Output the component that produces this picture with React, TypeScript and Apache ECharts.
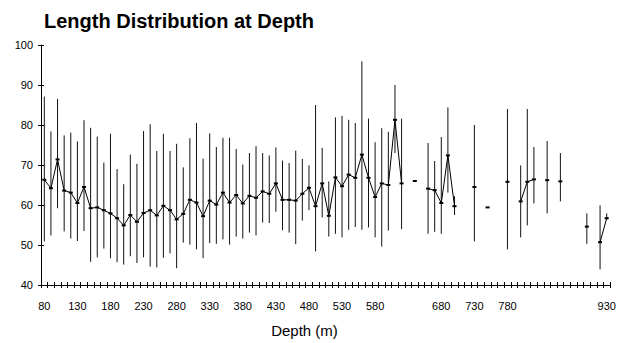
import React, { useEffect, useRef } from "react";
import * as echarts from "echarts";

const depths = [
  80, 90, 100, 110, 120, 130, 140, 150, 160, 170,
  180, 190, 200, 210, 220, 230, 240, 250, 260, 270,
  280, 290, 300, 310, 320, 330, 340, 350, 360, 370,
  380, 390, 400, 410, 420, 430, 440, 450, 460, 470,
  480, 490, 500, 510, 520, 530, 540, 550, 560, 570,
  580, 590, 600, 610, 620, 630, 640, 650, 660, 670,
  680, 690, 700, 710, 720, 730, 740, 750, 760, 770,
  780, 790, 800, 810, 820, 830, 840, 850, 860, 870,
  880, 890, 900, 910, 920, 930,
];

const meanLength: (number | null)[] = [
  66.3, 64.2, 71.4, 63.6, 63.1, 60.5, 64.5, 59.2, 59.4, 58.7,
  57.9, 56.7, 54.9, 57.5, 55.8, 58.0, 58.7, 57.4, 59.8, 58.7,
  56.4, 57.8, 61.3, 60.6, 57.2, 61.1, 60.1, 63.1, 60.6, 62.5,
  60.4, 62.3, 61.8, 63.4, 62.8, 65.4, 61.3, 61.3, 61.1, 62.8,
  64.3, 59.7, 65.4, 57.3, 66.9, 64.7, 67.6, 66.8, 72.6, 66.8,
  62.0, 65.4, 65.0, 81.3, 65.4, null, 66.0, null, 64.1, 63.7,
  60.5, 72.4, 59.7, null, null, 64.5, null, 59.4, null, null,
  65.8, null, 60.9, 65.8, 66.4, null, 66.2, null, 65.9, null,
  null, null, 54.6, null, 50.7, 56.7,
];

const minLength: (number | null)[] = [
  50.9, 52.4, 59.2, 53.4, 51.6, 51.0, 53.5, 45.8, 46.9, 49.1,
  46.7, 45.7, 45.1, 47.2, 45.5, 46.9, 44.6, 44.4, 46.8, 47.9,
  44.2, 50.6, 50.1, 48.9, 46.7, 50.5, 50.3, 51.4, 50.1, 52.1,
  51.6, 53.1, 52.4, 55.6, 55.5, 58.3, 53.7, 53.1, 50.2, 56.1,
  58.7, 48.4, 56.9, 52.1, 52.8, 51.9, 53.8, 54.5, 53.8, 54.4,
  51.9, 49.6, 53.6, 73.0, 54.0, null, 66.0, null, 52.8, 53.3,
  52.8, 63.1, 57.5, null, null, 50.9, null, 59.4, null, null,
  48.9, null, 51.9, 54.9, 60.4, null, 57.9, null, 60.9, null,
  null, null, 50.3, null, 43.9, 56.3,
];

const maxLength: (number | null)[] = [
  87.1, 78.4, 86.5, 77.4, 78.1, 75.9, 81.2, 79.3, 77.1, 70.6,
  77.8, 69.0, 65.2, 72.6, 70.3, 78.5, 80.2, 73.5, 77.8, 73.5,
  75.3, 69.4, 76.7, 80.5, 71.6, 77.9, 74.5, 76.8, 76.8, 74.0,
  70.1, 73.0, 74.7, 73.0, 72.4, 74.4, 71.1, 70.5, 73.6, 71.5,
  69.9, 85.0, 74.3, 65.9, 81.9, 82.3, 81.3, 80.5, 95.9, 81.6,
  75.7, 79.2, 78.3, 90.0, 81.6, null, 66.0, null, 75.5, 71.0,
  77.0, 84.4, 62.2, null, null, 80.0, null, 59.4, null, null,
  84.0, null, 69.9, 84.0, 74.5, null, 76.0, null, 73.0, null,
  null, null, 57.9, null, 59.9, 57.9,
];

const yTicks = [40, 50, 60, 70, 80, 90, 100];

const FONT = "'Liberation Sans', Arial, Helvetica, sans-serif";

export default function App() {
  const ref = useRef<HTMLDivElement>(null);

  useEffect(() => {
    if (!ref.current) return;
    const chart = echarts.init(ref.current, undefined, { renderer: "svg" });

    const cats = depths.map((d) => String(d));
    const rangeData: number[][] = [];
    depths.forEach((_, i) => {
      const lo = minLength[i];
      const hi = maxLength[i];
      if (lo != null && hi != null) rangeData.push([i, lo, hi]);
    });
    const lineData = meanLength.map((v) => (v == null ? "-" : v));

    const showLabel = (index: number) =>
      index % 5 === 0 && meanLength[index] != null;

    chart.setOption({
      animation: false,
      backgroundColor: "#fff",
      textStyle: { fontFamily: FONT },
      title: {
        text: "Length Distribution at Depth",
        left: 44,
        top: 11,
        padding: 0,
        textStyle: {
          fontFamily: FONT,
          fontSize: 20,
          fontWeight: "bold",
          color: "#000",
        },
      },
      grid: { left: 41, right: 12, top: 45, bottom: 56, containLabel: false },
      xAxis: [
        {
          type: "category",
          data: cats,
          position: "bottom",
          boundaryGap: true,
          name: "Depth (m)",
          nameLocation: "middle",
          nameGap: 38,
          nameTextStyle: {
            fontFamily: FONT,
            fontSize: 15,
            color: "#000",
            padding: [0, 42, 0, 0],
          },
          axisLine: { onZero: false, lineStyle: { color: "#000", width: 1 } },
          axisTick: {
            show: true,
            inside: false,
            length: 3,
            interval: 0,
            lineStyle: { color: "#000" },
          },
          axisLabel: {
            interval: 0,
            margin: 15,
            fontFamily: FONT,
            fontSize: 11,
            color: "#000",
            formatter: (v: string, index: number) => (showLabel(index) ? v : ""),
          },
          splitLine: { show: false },
        },
        {
          type: "category",
          data: cats,
          position: "bottom",
          boundaryGap: true,
          axisLine: { show: false, onZero: false },
          axisTick: {
            show: true,
            inside: true,
            length: 3,
            interval: 0,
            lineStyle: { color: "#000" },
          },
          axisLabel: { show: false },
          splitLine: { show: false },
        },
      ],
      yAxis: [
        {
          type: "value",
          min: yTicks[0],
          max: yTicks[yTicks.length - 1],
          interval: 10,
          position: "left",
          axisLine: { show: true, lineStyle: { color: "#000", width: 1 } },
          axisTick: {
            show: true,
            inside: false,
            length: 3,
            lineStyle: { color: "#000" },
          },
          axisLabel: {
            margin: 8,
            fontFamily: FONT,
            fontSize: 11,
            color: "#000",
          },
          splitLine: { show: false },
        },
        {
          type: "value",
          min: yTicks[0],
          max: yTicks[yTicks.length - 1],
          interval: 10,
          position: "left",
          axisLine: { show: false },
          axisTick: {
            show: true,
            inside: true,
            length: 3,
            lineStyle: { color: "#000" },
          },
          axisLabel: { show: false },
          splitLine: { show: false },
        },
      ],
      series: [
        {
          type: "custom",
          xAxisIndex: 0,
          yAxisIndex: 0,
          encode: { x: 0, y: [1, 2] },
          data: rangeData,
          renderItem: (params: any, api: any) => {
            const idx = api.value(0);
            const p1 = api.coord([idx, api.value(1)]);
            const p2 = api.coord([idx, api.value(2)]);
            return {
              type: "line",
              shape: { x1: p1[0], y1: p1[1], x2: p2[0], y2: p2[1] },
              style: { stroke: "#111", lineWidth: 1 },
            };
          },
          z: 2,
        },
        {
          type: "line",
          xAxisIndex: 0,
          yAxisIndex: 0,
          data: lineData,
          connectNulls: false,
          showSymbol: true,
          symbol: "rect",
          symbolSize: [4, 2],
          itemStyle: { color: "#000" },
          lineStyle: { color: "#000", width: 1 },
          z: 3,
        },
      ],
    });

    return () => chart.dispose();
  }, []);

  return (
    <div
      ref={ref}
      style={{ position: "fixed", left: 0, top: 0, width: 622, height: 343, background: "#fff" }}
    />
  );
}
